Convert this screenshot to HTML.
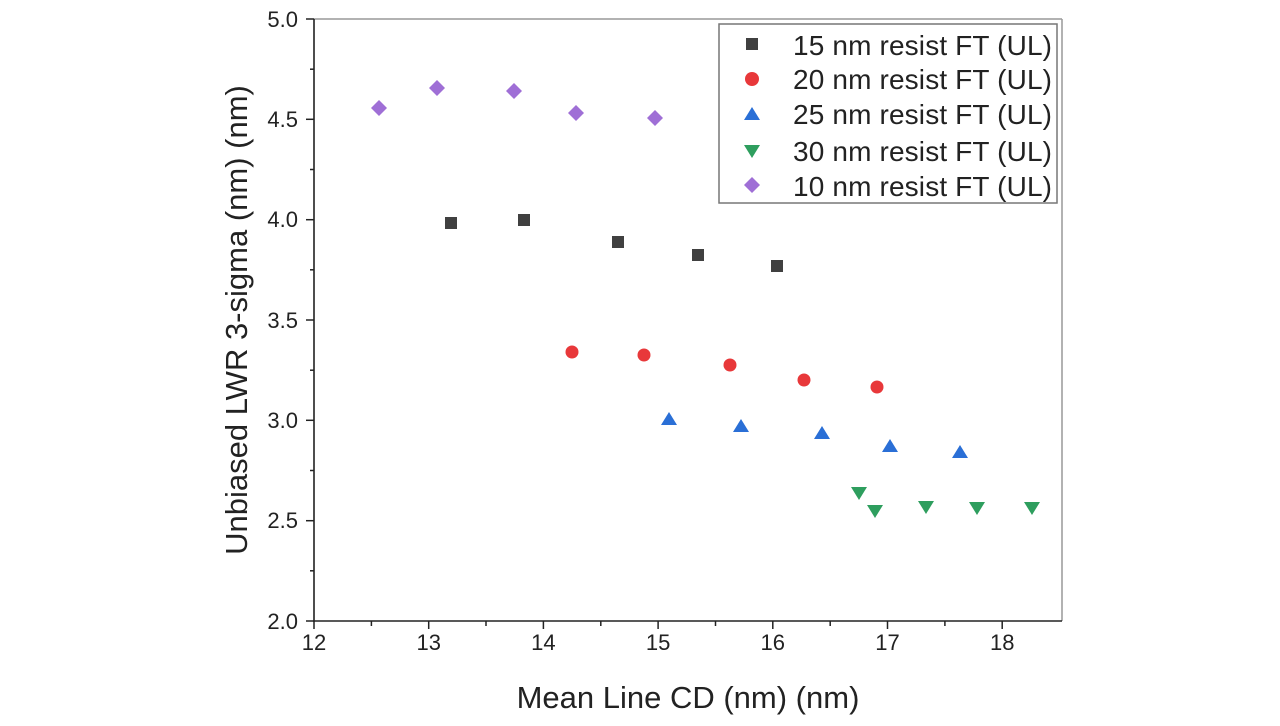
<!DOCTYPE html>
<html><head><style>body{margin:0;background:#fff}</style></head><body>
<svg width="1280" height="721" xmlns="http://www.w3.org/2000/svg" font-family="Liberation Sans, sans-serif">
<rect width="1280" height="721" fill="#fff"/>
<line x1="314" y1="19" x2="1062" y2="19" stroke="#999" stroke-width="1.5"/>
<line x1="1062" y1="19" x2="1062" y2="621" stroke="#999" stroke-width="1.5"/>
<line x1="314" y1="19" x2="314" y2="622" stroke="#222" stroke-width="1.6"/>
<line x1="313" y1="621" x2="1062" y2="621" stroke="#222" stroke-width="1.6"/>
<g stroke="#222" stroke-width="1.5">
<line x1="314" y1="621" x2="314" y2="629"/><line x1="428.7" y1="621" x2="428.7" y2="629"/><line x1="543.4" y1="621" x2="543.4" y2="629"/><line x1="658.1" y1="621" x2="658.1" y2="629"/><line x1="772.8" y1="621" x2="772.8" y2="629"/><line x1="887.5" y1="621" x2="887.5" y2="629"/><line x1="1002.2" y1="621" x2="1002.2" y2="629"/>
<line x1="371.4" y1="621" x2="371.4" y2="626"/><line x1="486" y1="621" x2="486" y2="626"/><line x1="600.8" y1="621" x2="600.8" y2="626"/><line x1="715.5" y1="621" x2="715.5" y2="626"/><line x1="830.2" y1="621" x2="830.2" y2="626"/><line x1="944.9" y1="621" x2="944.9" y2="626"/>
<line x1="306" y1="19" x2="314" y2="19"/><line x1="306" y1="119.3" x2="314" y2="119.3"/><line x1="306" y1="219.7" x2="314" y2="219.7"/><line x1="306" y1="320" x2="314" y2="320"/><line x1="306" y1="420.3" x2="314" y2="420.3"/><line x1="306" y1="520.7" x2="314" y2="520.7"/><line x1="306" y1="621" x2="314" y2="621"/>
<line x1="310" y1="69.2" x2="314" y2="69.2"/><line x1="310" y1="169.5" x2="314" y2="169.5"/><line x1="310" y1="269.8" x2="314" y2="269.8"/><line x1="310" y1="370.2" x2="314" y2="370.2"/><line x1="310" y1="470.5" x2="314" y2="470.5"/><line x1="310" y1="570.8" x2="314" y2="570.8"/>
</g>
<g font-size="22" fill="#222" text-anchor="middle">
<text x="314" y="650">12</text><text x="428.7" y="650">13</text><text x="543.4" y="650">14</text><text x="658.1" y="650">15</text><text x="772.8" y="650">16</text><text x="887.5" y="650">17</text><text x="1002.2" y="650">18</text>
</g>
<g font-size="22" fill="#222" text-anchor="end">
<text x="298" y="27">5.0</text><text x="298" y="127">4.5</text><text x="298" y="227">4.0</text><text x="298" y="328">3.5</text><text x="298" y="428">3.0</text><text x="298" y="528">2.5</text><text x="298" y="629">2.0</text>
</g>
<text x="688" y="708" font-size="31" fill="#222" text-anchor="middle">Mean Line CD (nm) (nm)</text>
<text transform="translate(247,320) rotate(-90)" font-size="31" fill="#222" text-anchor="middle">Unbiased LWR 3-sigma (nm) (nm)</text>
<g fill="#9f6fd6">
<path d="M379,100 l8,8 -8,8 -8,-8z"/><path d="M437,80 l8,8 -8,8 -8,-8z"/><path d="M514,83 l8,8 -8,8 -8,-8z"/><path d="M576,105 l8,8 -8,8 -8,-8z"/><path d="M655,110 l8,8 -8,8 -8,-8z"/>
</g>
<g fill="#404040">
<rect x="445" y="217" width="12" height="12"/><rect x="518" y="214" width="12" height="12"/><rect x="612" y="236" width="12" height="12"/><rect x="692" y="249" width="12" height="12"/><rect x="771" y="260" width="12" height="12"/>
</g>
<g fill="#e8383a">
<circle cx="572" cy="352" r="6.5"/><circle cx="644" cy="355" r="6.5"/><circle cx="730" cy="365" r="6.5"/><circle cx="804" cy="380" r="6.5"/><circle cx="877" cy="387" r="6.5"/>
</g>
<g fill="#2a6fd6">
<path d="M669,412 l8,13 h-16z"/><path d="M741,419 l8,13 h-16z"/><path d="M822,426 l8,13 h-16z"/><path d="M890,439 l8,13 h-16z"/><path d="M960,445 l8,13 h-16z"/>
</g>
<g fill="#2e9e5e">
<path d="M859,500 l8,-13 h-16z"/><path d="M875,518 l8,-13 h-16z"/><path d="M926,514 l8,-13 h-16z"/><path d="M977,515 l8,-13 h-16z"/><path d="M1032,515 l8,-13 h-16z"/>
</g>
<rect x="719" y="24" width="338" height="179" fill="#fff" stroke="#777" stroke-width="1.5"/>
<rect x="746" y="38" width="12" height="12" fill="#404040"/>
<circle cx="752" cy="79" r="7" fill="#e8383a"/>
<path d="M752,107 l8,13 h-16z" fill="#2a6fd6"/>
<path d="M752,158 l8,-13 h-16z" fill="#2e9e5e"/>
<path d="M752,177 l8,8 -8,8 -8,-8z" fill="#9f6fd6"/>
<g font-size="28" fill="#222">
<text x="793" y="55" textLength="259">15 nm resist FT (UL)</text>
<text x="793" y="89" textLength="259">20 nm resist FT (UL)</text>
<text x="793" y="124" textLength="259">25 nm resist FT (UL)</text>
<text x="793" y="161" textLength="259">30 nm resist FT (UL)</text>
<text x="793" y="196" textLength="259">10 nm resist FT (UL)</text>
</g>
</svg>
</body></html>
